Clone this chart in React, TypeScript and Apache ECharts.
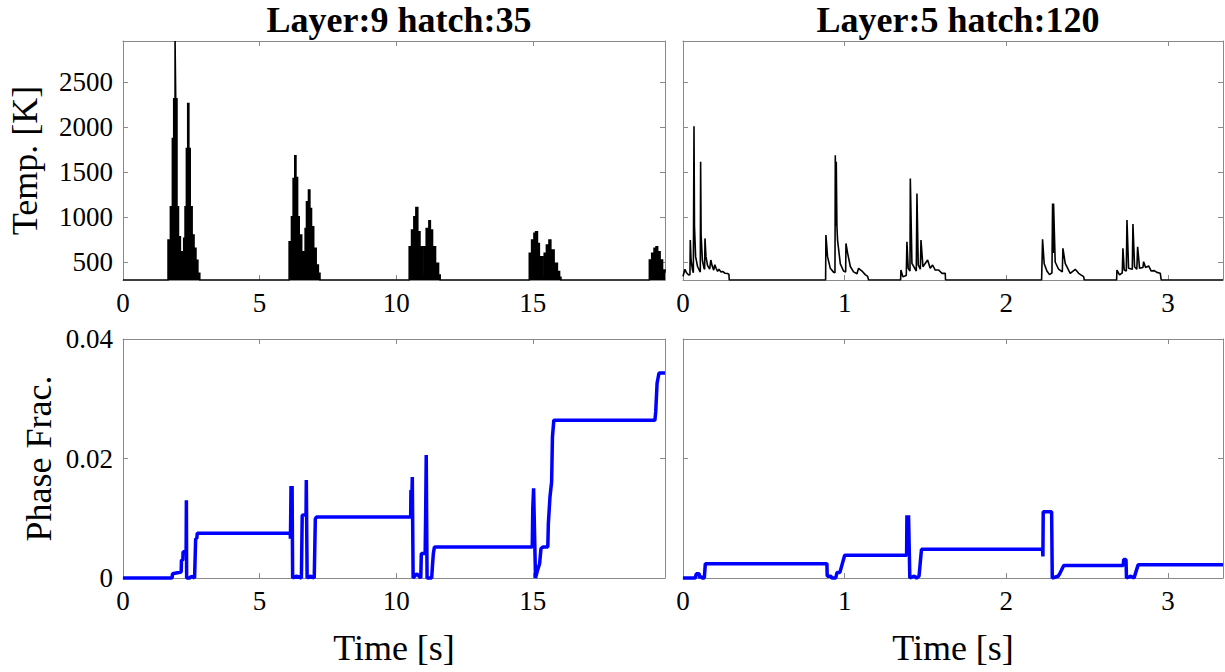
import React, { useEffect, useRef } from "react";
import * as echarts from "echarts";

// ---- tick labels ----
const leftTimeTicks = [0, 5, 10, 15];
const rightTimeTicks = [0, 1, 2, 3];
const tempTicks = [500, 1000, 1500, 2000, 2500];
const phaseTicks = [0, 0.02, 0.04];
const titles = ["Layer:9 hatch:35", "Layer:5 hatch:120"];

// ---- Layer 9 hatch 35 : temperature envelope, plateau starts [t(s), T(K)] ----
const layer9Temp: [number, number][] = [
  [0, 300], [1.649, 744], [1.735, 1115], [1.808, 1874], [1.857, 2318], [1.906, 2960], [1.93, 2318],
  [1.975, 1115], [2.03, 781], [2.1, 615], [2.17, 467], [2.223, 763], [2.272, 1115], [2.321, 1763],
  [2.37, 2263], [2.41, 1763], [2.46, 1114], [2.53, 800], [2.6, 652], [2.67, 520], [2.74, 374], [2.81, 300],
  [6.082, 726], [6.167, 1003], [6.228, 1430], [6.289, 1681], [6.33, 1440], [6.39, 1003], [6.45, 800],
  [6.54, 615], [6.62, 467], [6.668, 874], [6.717, 1170], [6.79, 1300], [6.84, 1096], [6.9, 893],
  [6.98, 652], [7.07, 467], [7.15, 374], [7.21, 300],
  [10.477, 670], [10.563, 856], [10.648, 1003], [10.722, 1107], [10.79, 837], [10.87, 670], [10.96, 356],
  [11.02, 670], [11.1, 874], [11.198, 959], [11.25, 856], [11.33, 670], [11.44, 485], [11.55, 356], [11.61, 300],
  [14.873, 596], [14.958, 744], [15.044, 819], [15.105, 837], [15.17, 707], [15.24, 559], [15.36, 337],
  [15.42, 596], [15.5, 689], [15.593, 744], [15.66, 633], [15.78, 485], [15.9, 393], [15.98, 330], [16.03, 300],
  [19.268, 522], [19.354, 596], [19.44, 652], [19.513, 670], [19.57, 615], [19.66, 522], [19.75, 411], [19.84, 380],
];

// ---- Layer 5 hatch 120 : temperature [t(s), T(K)] ----
const layer5Temp: [number, number][] = [
  [0, 340], [0.004, 337], [0.012, 419], [0.022, 380], [0.035, 356], [0.043, 360], [0.045, 744], [0.05, 520], [0.058, 420],
  [0.064, 380], [0.068, 2011], [0.071, 900], [0.078, 560], [0.09, 450], [0.103, 400], [0.107, 390], [0.109, 1615],
  [0.112, 800], [0.12, 520], [0.13, 430], [0.134, 420], [0.136, 763], [0.142, 560], [0.152, 460], [0.165, 420],
  [0.172, 522], [0.18, 460], [0.19, 410], [0.197, 470], [0.205, 430], [0.214, 395], [0.222, 420], [0.235, 390],
  [0.245, 395], [0.26, 375], [0.275, 372], [0.284, 365], [0.286, 300],
  [0.882, 300], [0.884, 800], [0.894, 560], [0.911, 430], [0.932, 385], [0.94, 380], [0.942, 1689], [0.946, 900],
  [0.948, 1615], [0.952, 900], [0.956, 744], [0.973, 480], [0.993, 400], [1.006, 390], [1.008, 707], [1.018, 600],
  [1.035, 450], [1.055, 390], [1.076, 370], [1.086, 430], [1.107, 400], [1.127, 360], [1.142, 340], [1.148, 300],
  [1.346, 300], [1.348, 411], [1.36, 337], [1.381, 350], [1.385, 726], [1.393, 430], [1.404, 400], [1.406, 1430],
  [1.416, 485], [1.443, 400], [1.447, 1263], [1.455, 467], [1.468, 420], [1.472, 744], [1.484, 448], [1.513, 522],
  [1.529, 430], [1.544, 467], [1.56, 411], [1.581, 411], [1.602, 374], [1.622, 374], [1.624, 300],
  [2.218, 300], [2.224, 752], [2.234, 480], [2.251, 400], [2.267, 360], [2.282, 380], [2.286, 1152], [2.29, 600],
  [2.292, 1152], [2.302, 500], [2.323, 420], [2.346, 390], [2.35, 652], [2.364, 485], [2.395, 374], [2.426, 419],
  [2.447, 374], [2.478, 337], [2.482, 300],
  [2.682, 300], [2.684, 411], [2.7, 356], [2.717, 380], [2.721, 652], [2.729, 411], [2.742, 400], [2.746, 967],
  [2.756, 430], [2.779, 420], [2.783, 922], [2.793, 448], [2.807, 420], [2.812, 670], [2.824, 430], [2.845, 440],
  [2.849, 504], [2.861, 440], [2.88, 456], [2.896, 400], [2.915, 404], [2.931, 385], [2.952, 374], [2.958, 300], [3.34, 300],
];

// ---- Layer 9 hatch 35 : phase fraction [t(s), frac] ----
const layer9Phase: [number, number][] = [
  [0, 0], [1.8, 0], [1.81, 0.0007], [2.13, 0.001], [2.14, 0.003], [2.19, 0.003], [2.2, 0.0044], [2.31, 0.0044],
  [2.32, 0.013], [2.33, 0], [2.45, 0], [2.5, 0.0003], [2.62, 0], [2.66, 0.0066], [2.7, 0.0066], [2.72, 0.0075],
  [6.12, 0.0075], [6.13, 0.0066], [6.15, 0.0154], [6.17, 0.012], [6.19, 0.0154], [6.21, 0], [6.35, 0.0003], [6.53, 0],
  [6.56, 0.0105], [6.7, 0.0106], [6.71, 0.0164], [6.74, 0], [6.85, 0.0003], [7.0, 0], [7.04, 0.0099], [7.08, 0.0102],
  [10.53, 0.0102], [10.54, 0.0147], [10.58, 0.0147], [10.59, 0.0169], [10.62, 0], [10.75, 0.0007], [10.9, 0],
  [10.92, 0.0041], [11.06, 0.0041], [11.08, 0.0113], [11.1, 0.0206], [11.13, 0], [11.3, 0], [11.33, 0.0022],
  [11.36, 0.0041], [11.4, 0.0052],
  [14.98, 0.0052], [15.0, 0.0116], [15.03, 0.015], [15.1, 0], [15.18, 0.0014], [15.25, 0.0024], [15.3, 0.0049],
  [15.38, 0.0052], [15.55, 0.0052], [15.57, 0.0091], [15.63, 0.0136], [15.69, 0.0161], [15.72, 0.0236], [15.77, 0.0264],
  [19.47, 0.0264], [19.5, 0.0278], [19.55, 0.0326], [19.62, 0.0343], [19.84, 0.0343],
];

// ---- Layer 5 hatch 120 : phase fraction [t(s), frac] ----
const layer5Phase: [number, number][] = [
  [0, 0], [0.076, 0], [0.082, 0.0007], [0.1, 0.0007], [0.103, 0], [0.11, 0.0003], [0.118, 0], [0.132, 0], [0.138, 0.0024],
  [0.89, 0.0024], [0.892, 0.0003], [0.915, 0.0003], [0.92, 0], [0.945, 0], [0.952, 0.0009], [0.97, 0.0009], [1.0, 0.0038],
  [1.383, 0.0038], [1.385, 0.0105], [1.39, 0.0045], [1.395, 0.0105], [1.403, 0], [1.43, 0.0003], [1.445, 0],
  [1.46, 0.0003], [1.475, 0.0048],
  [2.224, 0.0048], [2.226, 0.0036], [2.228, 0.0111], [2.28, 0.0111], [2.284, 0], [2.32, 0.0003], [2.33, 0.0007],
  [2.355, 0.0021],
  [2.723, 0.0021], [2.726, 0.0031], [2.74, 0.0031], [2.743, 0], [2.77, 0.0003], [2.79, 0], [2.8, 0.0009],
  [2.815, 0.0022], [3.34, 0.0022],
];

const FONT = "'Liberation Serif', 'Times New Roman', serif";
const AXIS_COLOR = "#8a8a8a";

function xAxis(grid: number, max: number, ticks: number[], pos: "bottom" | "top", labels: boolean, name?: string) {
  return {
    type: "value",
    gridIndex: grid,
    position: pos,
    min: 0,
    max,
    axisLine: { show: true, onZero: false, lineStyle: { color: AXIS_COLOR, width: 1 } },
    axisTick: { show: true, inside: true, length: 5, customValues: ticks, lineStyle: { color: AXIS_COLOR } },
    axisLabel: {
      show: labels,
      customValues: ticks,
      color: "#000",
      fontFamily: FONT,
      fontSize: 27,
      margin: 9,
      formatter: (v: number) => String(v),
    },
    splitLine: { show: false },
    name: name || "",
    nameLocation: "middle",
    nameGap: 52,
    nameTextStyle: { color: "#000", fontFamily: FONT, fontSize: 36 },
  };
}

function yAxis(grid: number, min: number, max: number, ticks: number[], pos: "left" | "right", labels: boolean,
  name?: string, fmt?: (v: number) => string, gap?: number) {
  return {
    type: "value",
    gridIndex: grid,
    position: pos,
    min,
    max,
    axisLine: { show: true, onZero: false, lineStyle: { color: AXIS_COLOR, width: 1 } },
    axisTick: { show: true, inside: true, length: 5, customValues: ticks, lineStyle: { color: AXIS_COLOR } },
    axisLabel: {
      show: labels,
      customValues: ticks,
      color: "#000",
      fontFamily: FONT,
      fontSize: 27,
      margin: 10,
      formatter: fmt || ((v: number) => String(v)),
    },
    splitLine: { show: false },
    name: name || "",
    nameLocation: "middle",
    nameGap: gap ?? 78,
    nameTextStyle: { color: "#000", fontFamily: FONT, fontSize: 36 },
  };
}

export default function App() {
  const ref = useRef<HTMLDivElement>(null);
  useEffect(() => {
    if (!ref.current) return;
    const chart = echarts.init(ref.current, undefined, { renderer: "svg" });
    const L = 123, LW = 542, R = 683, RW = 540, T1 = 41, T2 = 339, H = 239;
    const phaseFmt = (v: number) => (v === 0 ? "0" : v.toFixed(2));
    chart.setOption({
      animation: false,
      backgroundColor: "#fff",
      title: [
        { text: titles[0], left: L + LW / 2, top: -3, textAlign: "center",
          textStyle: { fontFamily: FONT, fontSize: 36, fontWeight: "bold", color: "#000" } },
        { text: titles[1], left: R + RW / 2, top: -3, textAlign: "center",
          textStyle: { fontFamily: FONT, fontSize: 36, fontWeight: "bold", color: "#000" } },
      ],
      grid: [
        { left: L, top: T1, width: LW, height: H },
        { left: R, top: T1, width: RW, height: H },
        { left: L, top: T2, width: LW, height: H },
        { left: R, top: T2, width: RW, height: H },
      ],
      xAxis: [
        xAxis(0, 19.84, leftTimeTicks, "bottom", true),
        xAxis(0, 19.84, leftTimeTicks, "top", false),
        xAxis(1, 3.34, rightTimeTicks, "bottom", true),
        xAxis(1, 3.34, rightTimeTicks, "top", false),
        xAxis(2, 19.84, leftTimeTicks, "bottom", true, "Time [s]"),
        xAxis(2, 19.84, leftTimeTicks, "top", false),
        xAxis(3, 3.34, rightTimeTicks, "bottom", true, "Time [s]"),
        xAxis(3, 3.34, rightTimeTicks, "top", false),
      ],
      yAxis: [
        yAxis(0, 300, 2960, tempTicks, "left", true, "Temp. [K]", undefined, 80),
        yAxis(0, 300, 2960, tempTicks, "right", false),
        yAxis(1, 300, 2960, tempTicks, "left", false),
        yAxis(1, 300, 2960, tempTicks, "right", false),
        yAxis(2, 0, 0.04, phaseTicks, "left", true, "Phase Frac.", phaseFmt, 66),
        yAxis(2, 0, 0.04, phaseTicks, "right", false),
        yAxis(3, 0, 0.04, phaseTicks, "left", false),
        yAxis(3, 0, 0.04, phaseTicks, "right", false),
      ],
      series: [
        {
          type: "line", xAxisIndex: 0, yAxisIndex: 0, data: layer9Temp, showSymbol: false, clip: true, step: "end",
          lineStyle: { color: "#000", width: 1.6, join: "miter" },
          areaStyle: { color: "#000", opacity: 1, origin: "start" },
        },
        {
          type: "line", xAxisIndex: 2, yAxisIndex: 2, data: layer5Temp, showSymbol: false, clip: true,
          lineStyle: { color: "#000", width: 1.6 },
        },
        {
          type: "line", xAxisIndex: 4, yAxisIndex: 4, data: layer9Phase, showSymbol: false, clip: false,
          lineStyle: { color: "#0000ff", width: 3.5 },
        },
        {
          type: "line", xAxisIndex: 6, yAxisIndex: 6, data: layer5Phase, showSymbol: false, clip: false,
          lineStyle: { color: "#0000ff", width: 3.5 },
        },
      ],
    });
    return () => chart.dispose();
  }, []);
  return (
    <div
      ref={ref}
      style={{ position: "fixed", left: 0, top: 0, width: 1225, height: 672, background: "#fff" }}
    />
  );
}
